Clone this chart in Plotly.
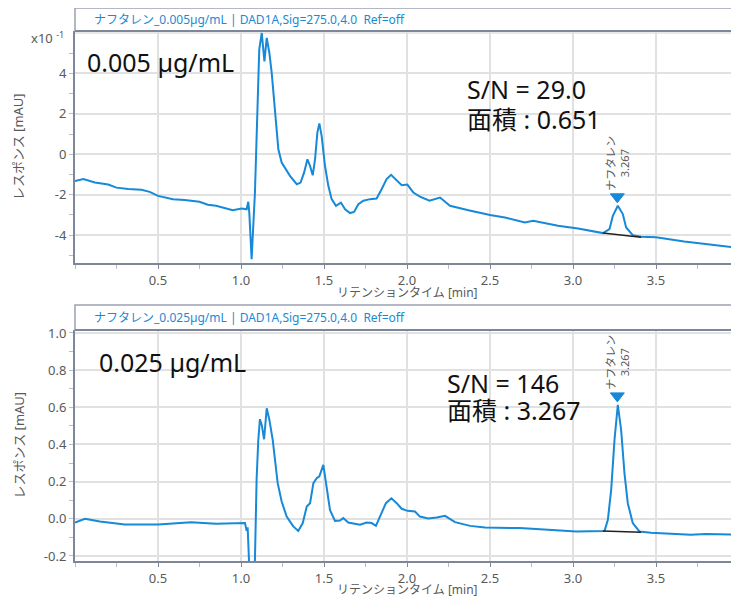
import plotly.graph_objects as go

# ---------------- data ----------------
# top chromatogram, 0.005 ug/mL  (values in units of x10^-1 mAU)
top_points = [
    (0.00, -1.32), (0.05, -1.23), (0.12, -1.40), (0.20, -1.50), (0.25, -1.65), (0.32, -1.72),
    (0.40, -1.76), (0.45, -1.86), (0.50, -2.06), (0.59, -2.22), (0.66, -2.26), (0.75, -2.35),
    (0.80, -2.50), (0.85, -2.55), (0.95, -2.77), (1.004, -2.68), (1.034, -2.72), (1.044, -2.35),
    (1.050, -2.90), (1.064, -5.19), (1.084, -1.89), (1.098, 2.06), (1.110, 5.19), (1.125, 6.00),
    (1.141, 4.60), (1.155, 5.76), (1.171, 5.00), (1.185, 4.03), (1.205, 2.06), (1.225, 0.25),
    (1.245, -0.41), (1.295, -1.07), (1.336, -1.48), (1.359, -1.40), (1.380, -0.91), (1.400, -0.25),
    (1.416, -0.58), (1.432, -1.04), (1.446, -0.25), (1.460, 1.07), (1.472, 1.53), (1.486, 0.90),
    (1.506, -0.58), (1.526, -1.56), (1.546, -2.22), (1.572, -2.55), (1.602, -2.39), (1.627, -2.72),
    (1.657, -2.91), (1.681, -2.85), (1.707, -2.47), (1.737, -2.30), (1.777, -2.22), (1.817, -2.19),
    (1.847, -1.73), (1.877, -1.23), (1.904, -1.02), (1.938, -1.32), (1.968, -1.53), (2.002, -1.50),
    (2.038, -1.89), (2.078, -2.10), (2.135, -2.30), (2.199, -2.14), (2.259, -2.55), (2.370, -2.77),
    (2.500, -3.01), (2.590, -3.13), (2.710, -3.37), (2.760, -3.29), (2.910, -3.54), (3.030, -3.67),
    (3.150, -3.87), (3.180, -3.90), (3.220, -3.70), (3.240, -3.05), (3.270, -2.55), (3.300, -2.96),
    (3.320, -3.62), (3.360, -4.00), (3.410, -4.08), (3.500, -4.11), (3.670, -4.32), (3.870, -4.53),
    (4.000, -4.63),
]

# bottom chromatogram, 0.025 ug/mL  (mAU)
bottom_points = [
    (0.00, -0.020), (0.06, 0.000), (0.15, -0.015), (0.30, -0.030), (0.50, -0.030), (0.70, -0.018),
    (0.85, -0.027), (1.024, -0.023), (1.034, -0.065), (1.040, -0.045), (1.048, -0.220), (1.064, -0.500),
    (1.084, -0.220), (1.094, 0.210), (1.104, 0.420), (1.114, 0.536), (1.125, 0.505), (1.139, 0.428),
    (1.155, 0.595), (1.171, 0.532), (1.191, 0.425), (1.205, 0.317), (1.221, 0.192), (1.245, 0.093),
    (1.275, 0.012), (1.315, -0.041), (1.345, -0.065), (1.372, -0.023), (1.396, 0.066), (1.416, 0.084),
    (1.436, 0.192), (1.456, 0.219), (1.472, 0.228), (1.496, 0.290), (1.516, 0.174), (1.536, 0.048),
    (1.566, -0.011), (1.596, -0.009), (1.616, 0.004), (1.646, -0.020), (1.717, -0.032), (1.757, -0.020),
    (1.787, -0.023), (1.813, -0.038), (1.837, 0.012), (1.873, 0.084), (1.906, 0.110), (1.938, 0.084),
    (1.968, 0.054), (2.003, 0.043), (2.048, 0.039), (2.078, 0.012), (2.128, 0.002), (2.179, 0.007),
    (2.229, 0.016), (2.289, -0.018), (2.380, -0.038), (2.470, -0.047), (2.680, -0.050), (2.860, -0.059),
    (3.020, -0.068), (3.190, -0.065), (3.210, -0.005), (3.230, 0.156), (3.250, 0.425), (3.270, 0.613),
    (3.290, 0.478), (3.310, 0.246), (3.330, 0.084), (3.360, -0.023), (3.400, -0.068), (3.470, -0.075),
    (3.510, -0.077), (3.710, -0.086), (3.800, -0.082), (4.000, -0.086),
]

# integration baselines
base_t = [3.18, 3.41]
top_base_v = [-3.90, -4.10]
bottom_base_v = [-0.065, -0.072]

# peak info
peak_name = "ナフタレン"
peak_rt = 3.267
top_peak_apex = -2.55
bottom_peak_apex = 0.613

x_tickvals = [0.5, 1.0, 1.5, 2.0, 2.5, 3.0, 3.5]
x_ticktext = ["0.5", "1.0", "1.5", "2.0", "2.5", "3.0", "3.5"]
top_tickvals = [-4, -2, 0, 2, 4]
top_ticktext = ["-4", "-2", "0", "2", "4"]
top_extra_grid = 6
bottom_tickvals = [-0.2, 0.0, 0.2, 0.4, 0.6, 0.8, 1.0]
bottom_ticktext = ["-0.2", "0.0", "0.2", "0.4", "0.6", "0.8", "1.0"]

top_title = "ナフタレン_0.005µg/mL | DAD1A,Sig=275.0,4.0  Ref=off"
bottom_title = "ナフタレン_0.025µg/mL | DAD1A,Sig=275.0,4.0  Ref=off"
top_conc = "0.005 µg/mL"
bottom_conc = "0.025 µg/mL"
top_sn = "S/N = 29.0"
top_area = "面積 : 0.651"
bottom_sn = "S/N = 146"
bottom_area = "面積 : 3.267"
x_title = "リテンションタイム [min]"
y_title = "レスポンス [mAU]"

# ---------------- styling ----------------
LINE = "#1689d8"
AXIS = "#7e879a"
GRID = "#e1e1e1"
TXT = "#595959"
FONT = "Noto Sans, Noto Sans CJK JP, sans-serif"

# the page body adds an 8 px offset; positions below are screen pixels
OFF = 8
H, W = 598, 739
M_L, M_T = 75 - OFF, 31 - OFF
M_B = H - (561 - OFF)
M_R = W - (739 - OFF)
PH = H - M_T - M_B
PW = W - M_L - M_R


def py(pix):
    """screen pixel row -> paper y"""
    return (H - M_B - (pix - OFF)) / PH


def px(pix):
    return (pix - OFF - M_L) / PW


fig = go.Figure()
fig.add_trace(go.Scatter(x=[p[0] for p in top_points], y=[p[1] for p in top_points],
                         mode="lines", line=dict(color=LINE, width=2), xaxis="x", yaxis="y",
                         hoverinfo="skip"))
fig.add_trace(go.Scatter(x=base_t, y=top_base_v, mode="lines",
                         line=dict(color="#222222", width=1.5), xaxis="x", yaxis="y"))
fig.add_trace(go.Scatter(x=[p[0] for p in bottom_points], y=[p[1] for p in bottom_points],
                         mode="lines", line=dict(color=LINE, width=2), xaxis="x2", yaxis="y2",
                         hoverinfo="skip"))
fig.add_trace(go.Scatter(x=base_t, y=bottom_base_v, mode="lines",
                         line=dict(color="#222222", width=1.5), xaxis="x2", yaxis="y2"))

xcommon = dict(range=[0, 4.0], tickmode="array", tickvals=x_tickvals, ticktext=x_ticktext,
               automargin=False,
               showgrid=True, gridcolor=GRID, gridwidth=1.5, zeroline=False,
               showline=True, linecolor=AXIS, linewidth=2, ticks="outside", ticklen=4,
               tickcolor=AXIS, tickfont=dict(family=FONT, size=13, color=TXT),
               minor=dict(tickmode="linear", tick0=0, dtick=0.25, ticks="outside", ticklen=4,
                          tickcolor="#b8bcc6", showgrid=False))
ycommon = dict(showgrid=True, gridcolor=GRID, gridwidth=1.5, zeroline=False, automargin=False,
               showline=True, linecolor=AXIS, linewidth=2, ticks="outside", ticklen=4,
               tickcolor="#b8bcc6", tickfont=dict(family=FONT, size=13, color=TXT),
               tickmode="array")

top_dom = [py(263), 1.0]
bot_dom = [0.0, py(330)]

fig.update_layout(
    width=W, height=H, margin=dict(l=M_L, r=M_R, t=M_T, b=M_B, autoexpand=False),
    paper_bgcolor="white", plot_bgcolor="white", showlegend=False,
    font=dict(family=FONT, color=TXT),
    xaxis=dict(xcommon, anchor="y", domain=[0, 1]),
    yaxis=dict(ycommon, anchor="x", domain=top_dom, range=[-5.38, 6.1],
               tickvals=top_tickvals, ticktext=top_ticktext,
               minor=dict(tickmode="linear", tick0=1, dtick=2, ticks="outside", ticklen=4,
                          tickcolor="#b8bcc6", showgrid=False)),
    xaxis2=dict(xcommon, anchor="y2", domain=[0, 1]),
    yaxis2=dict(ycommon, anchor="x2", domain=bot_dom, range=[-0.227, 1.016],
                tickvals=bottom_tickvals, ticktext=bottom_ticktext,
                minor=dict(tickmode="linear", tick0=0.1, dtick=0.2, ticks="outside", ticklen=4,
                           tickcolor="#b8bcc6", showgrid=False)),
)

shapes = []
ann = []
# extra grid line at the top of the upper panel (its label is replaced by the exponent)
shapes.append(dict(type="line", xref="paper", yref="y", x0=0, x1=1, y0=top_extra_grid,
                   y1=top_extra_grid, line=dict(color=GRID, width=1.5), layer="below"))
# title bars
for top_pix, bot_pix, title in [(8, 31, top_title), (305, 330, bottom_title)]:
    shapes.append(dict(type="rect", xref="paper", yref="paper", x0=0, x1=1.02,
                       y0=py(bot_pix), y1=py(top_pix), fillcolor="white",
                       line=dict(color="#9aa1b1", width=1.5), layer="above"))
    shapes.append(dict(type="line", xref="paper", yref="paper", x0=0, x1=1.02,
                       y0=py(bot_pix), y1=py(bot_pix), line=dict(color=AXIS, width=2)))
    ann.append(dict(text=title, xref="paper", yref="paper", x=0, xshift=17,
                    y=py((top_pix + bot_pix) / 2), xanchor="left", yanchor="middle",
                    showarrow=False, font=dict(family=FONT, size=12, color="#1a8ad4")))

# peak markers (triangles) and labels
for xa, ya, apex in [("x", "y", top_peak_apex), ("x2", "y2", bottom_peak_apex)]:
    shapes.append(dict(type="path", xref=xa, yref=ya, xsizemode="pixel", ysizemode="pixel",
                       xanchor=peak_rt, yanchor=apex, path="M -7,12 L 7,12 L 0,3 Z",
                       fillcolor=LINE, line=dict(color=LINE, width=1)))
    ann.append(dict(text=peak_name + "<br>" + f"{peak_rt:.3f}", xref=xa, yref=ya,
                    x=peak_rt, y=apex, yshift=13, xanchor="center", yanchor="bottom",
                    textangle=-90, showarrow=False,
                    font=dict(family=FONT, size=11, color=TXT)))

# big texts
big = dict(family=FONT, size=25, color="#111111")
for text, lx, cy in [(top_conc, 85, 62), (top_sn, 465, 89), (top_area, 465, 119),
                     (bottom_conc, 97, 362), (bottom_sn, 445, 383), (bottom_area, 445, 410)]:
    ann.append(dict(text=text, xref="paper", yref="paper", x=px(lx), y=py(cy),
                    xanchor="left", yanchor="middle", showarrow=False, font=big))

# axis titles
for cy_title, cy_y in [(292, (31 + 263) / 2), (589, (330 + 561) / 2)]:
    ann.append(dict(text=x_title, xref="paper", yref="paper", x=0.5, y=py(cy_title),
                    xanchor="center", yanchor="middle", showarrow=False,
                    font=dict(family=FONT, size=12, color=TXT)))
    ann.append(dict(text=y_title, xref="paper", yref="paper", x=0, xshift=-57, y=py(cy_y),
                    xanchor="center", yanchor="middle", textangle=-90, showarrow=False,
                    font=dict(family=FONT, size=13, color=TXT)))

# exponent label
ann.append(dict(text="x10 <sup>-1</sup>", xref="paper", yref="y", x=0, xshift=-9, y=6,
                yshift=-4, xanchor="right", yanchor="middle", showarrow=False,
                font=dict(family=FONT, size=13, color=TXT)))

fig.update_layout(shapes=shapes, annotations=ann)
fig.write_html("out.html")
